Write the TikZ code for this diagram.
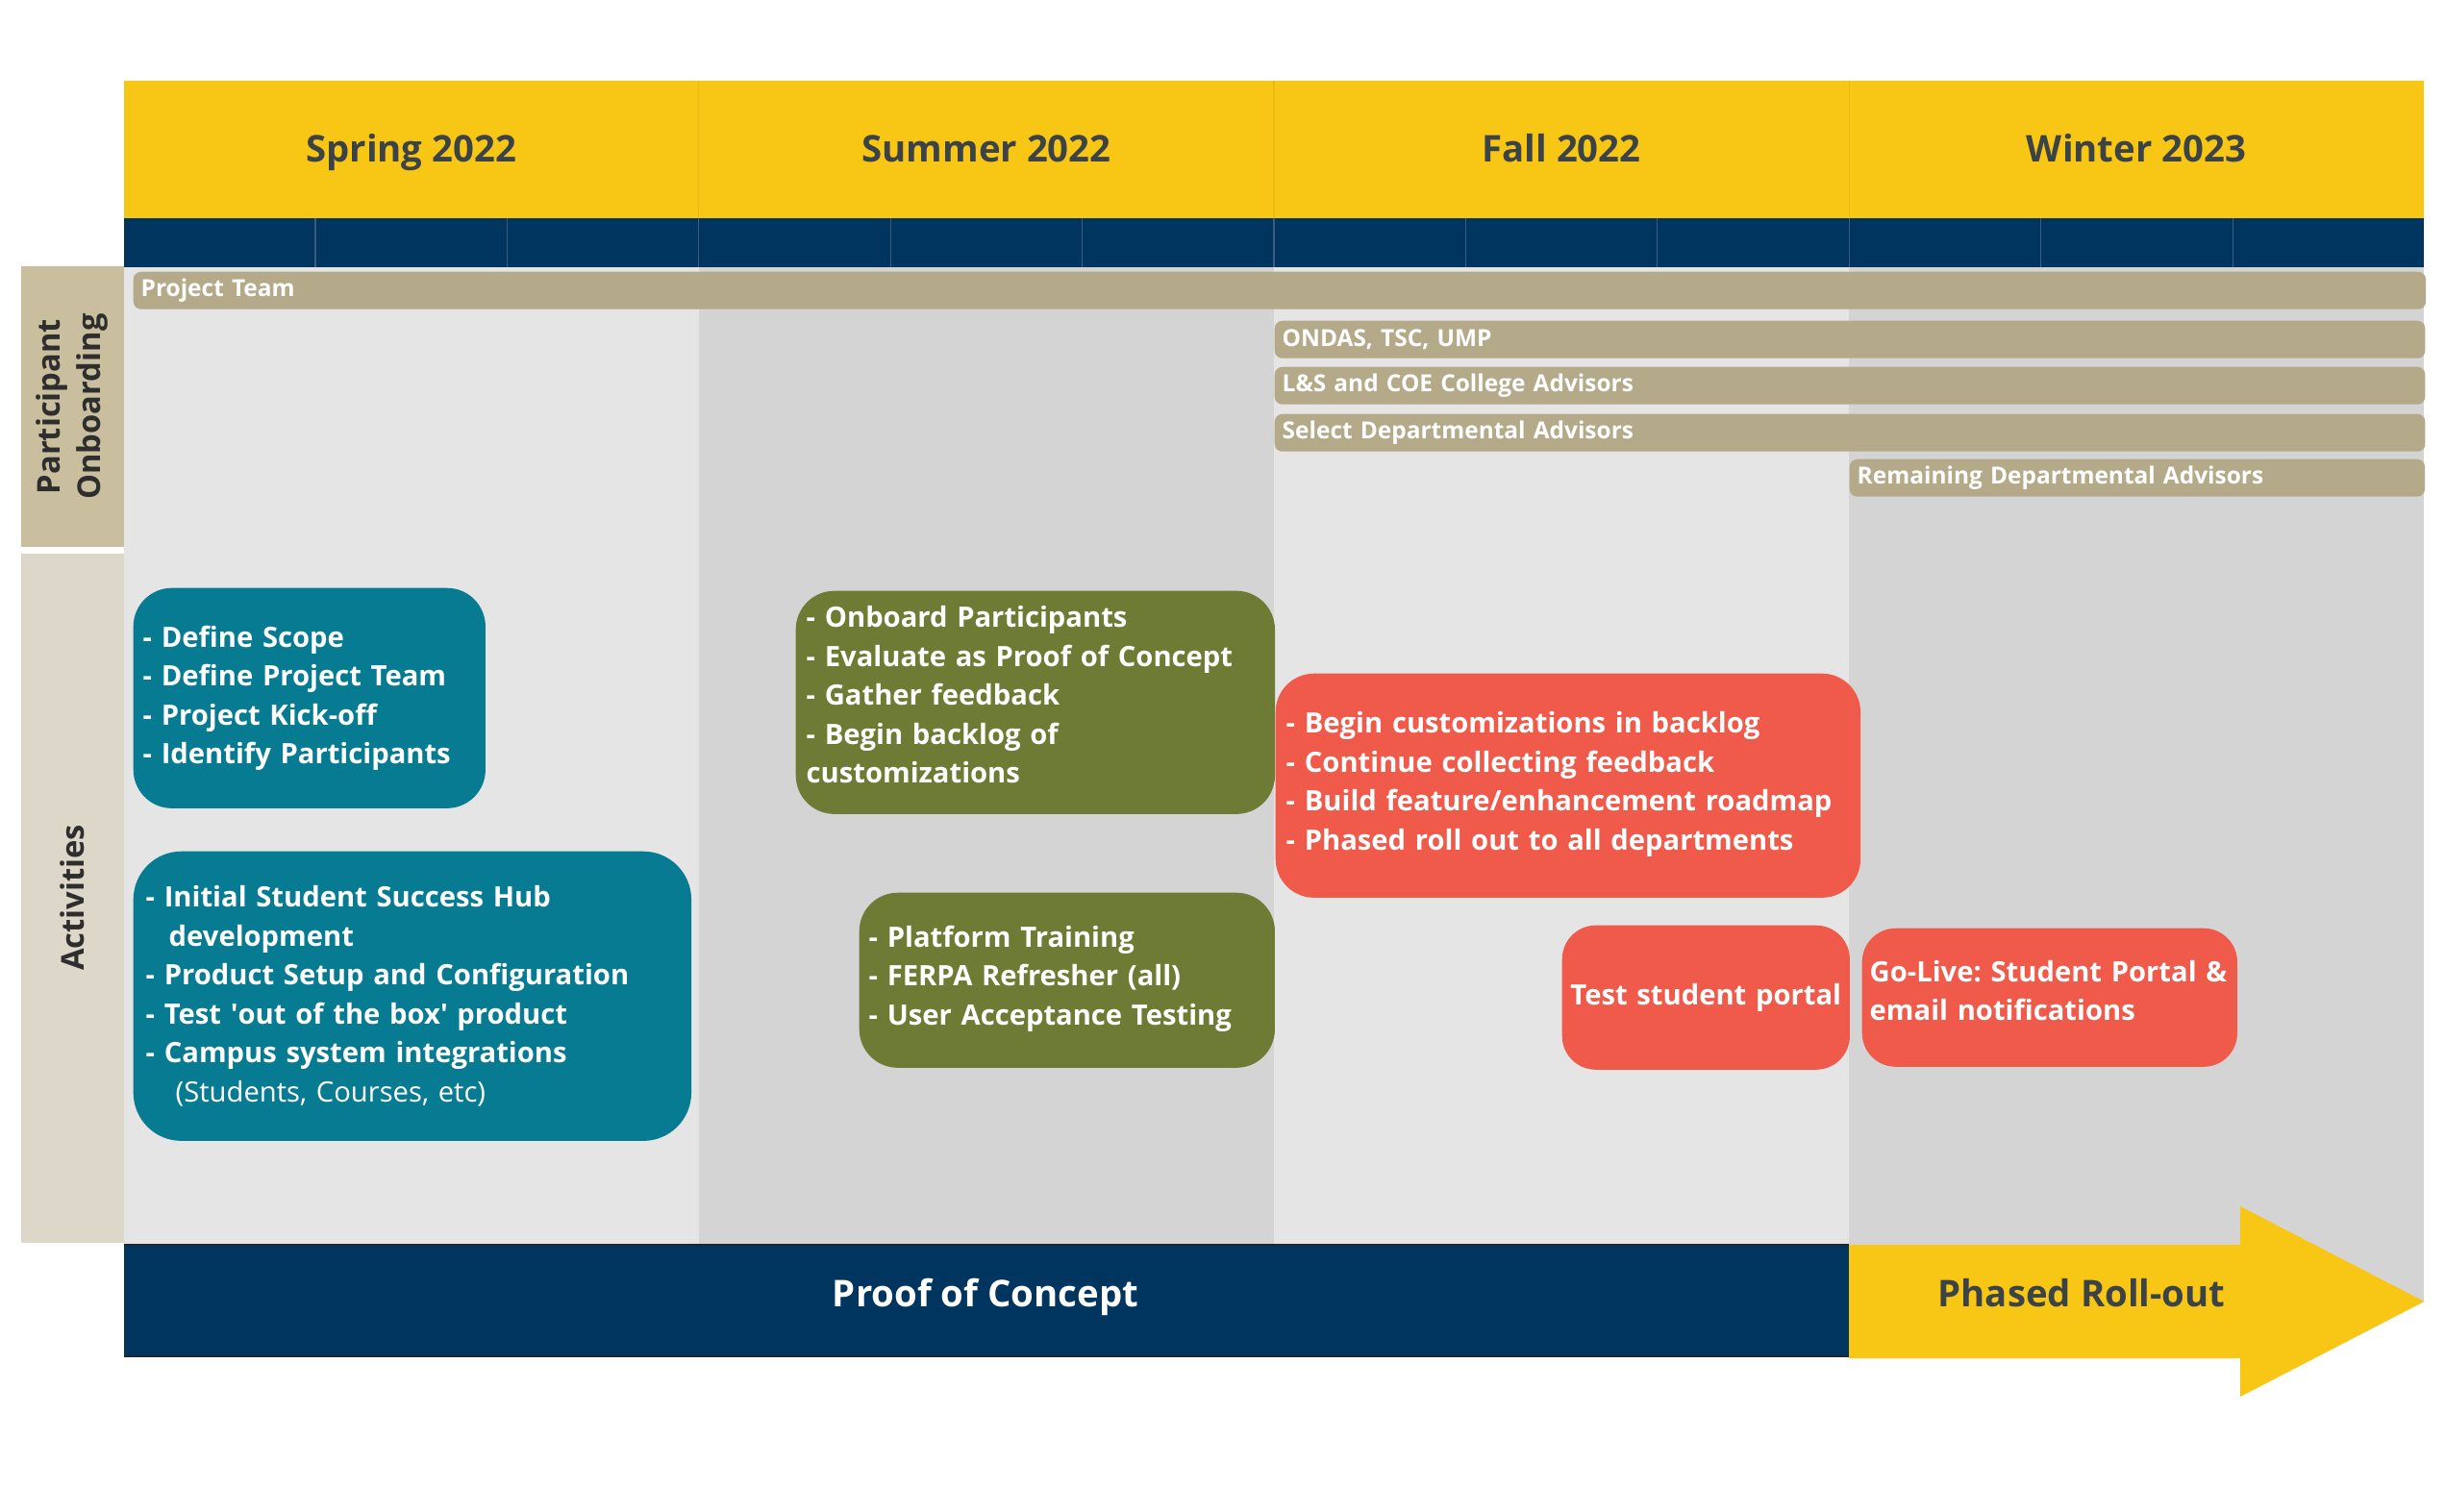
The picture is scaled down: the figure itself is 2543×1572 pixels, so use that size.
\documentclass[tikz,border=0pt]{standalone}
\usepackage{fontspec}
\setmainfont{Open Sans}
\frenchspacing
\definecolor{yel}{HTML}{F8C614}
\definecolor{yelline}{HTML}{E8BA14}
\definecolor{navy}{HTML}{00355F}
\definecolor{navyline}{HTML}{3A5C80}
\definecolor{headtxt}{HTML}{3C4347}
\definecolor{lightcol}{HTML}{E5E5E5}
\definecolor{darkcol}{HTML}{D4D4D4}
\definecolor{tanbar}{HTML}{B4AA8A}
\definecolor{partcol}{HTML}{C9BF9F}
\definecolor{actcol}{HTML}{DDD7C9}
\definecolor{labtxt}{HTML}{2E2E2E}
\definecolor{teal}{HTML}{067B92}
\definecolor{olive}{HTML}{6D7B35}
\definecolor{redbox}{HTML}{EF5A4A}
\definecolor{edgedark}{HTML}{1B2733}
\begin{document}
\begin{tikzpicture}[x=0.01cm,y=-0.01cm,
  head/.style={font=\fontsize{10.9}{13}\selectfont\bfseries, text=headtxt, anchor=base},
  sidelab/.style={rotate=90, align=center, font=\fontsize{9.3}{12}\selectfont\bfseries, text=labtxt},
  bar/.style={fill=tanbar, rounded corners=0.08cm, anchor=north west, inner xsep=0.08cm, inner ysep=0pt,
    minimum height=0.39cm, text width=#1, align=left, text=white, font=\fontsize{6.95}{8.5}\selectfont\bfseries},
  actbox/.style={rounded corners=0.4cm, anchor=north west, inner ysep=0pt, align=left, text=white,
    font=\fontsize{8.3}{11.5}\selectfont\bfseries},
  bottomtxt/.style={font=\fontsize{10.9}{12.5}\selectfont\bfseries, text height=0.75em, text depth=0.22em}
]
\useasboundingbox (0,0) rectangle (2543,1572);

% column backgrounds
\fill[lightcol] (128.6,277) rectangle (726.8,1295);
\fill[darkcol] (726.8,277) rectangle (1325,1295);
\fill[lightcol] (1325,277) rectangle (1923.2,1295);
\fill[darkcol] (1923.2,277) rectangle (2521.4,1354);

% header
\fill[yel] (128.6,84) rectangle (2521.4,227);
\foreach \xx in {726.8,1325,1923.2}
  \draw[yelline, line width=0.3pt] (\xx,84) -- (\xx,227);
\fill[navy] (128.6,227) rectangle (2521.4,278);
\foreach \xx in {328,527.4,726.8,926.2,1125.6,1325,1524.4,1723.8,1923.2,2122.6,2322}
  \draw[navyline, line width=0.3pt] (\xx,227) -- (\xx,278);

\node[head] (hspring) at (427.7,168) {Spring 2022};
\node[head] (hsummer) at (1026,168) {Summer 2022};
\node[head] (hfall) at (1624,168) {Fall 2022};
\node[head] (hwinter) at (2222,168) {Winter 2023};

% side labels
\fill[partcol] (22,277) rectangle (128.6,569);
\fill[actcol] (22,576) rectangle (128.6,1293);
\node[sidelab] (lpart) at (75,423) {Participant\\Onboarding};
\node[sidelab] (lact) at (75,934) {Activities};

% onboarding bars
\node[bar=23.67cm] (bteam) at (138,282) {Project Team};
\node[bar=11.80cm] (bondas) at (1325,333) {ONDAS, TSC, UMP};
\node[bar=11.80cm] (bls) at (1325,381) {L\&S and COE College Advisors};
\node[bar=11.80cm] (bsel) at (1325,430) {Select Departmental Advisors};
\node[bar=5.82cm] (brem) at (1923,477) {Remaining Departmental Advisors};

% activity boxes
\node[actbox, fill=teal, inner xsep=0.1cm, text width=3.46cm, minimum height=2.29cm] (t1) at (138,611)
  {- Define Scope\\- Define Project Team\\- Project Kick-off\\- Identify Participants};
\node[actbox, fill=teal, rounded corners=0.5cm, inner xsep=0.13cm, text width=5.54cm, minimum height=3.01cm] (t2) at (138,885)
  {- Initial Student Success Hub\\\hspace*{0.24cm}development\\\mbox{- Product Setup and Configuration}\\- Test \textquotesingle out of the box\textquotesingle\ product\\- Campus system integrations\\\hspace*{0.31cm}{\mdseries (Students, Courses, etc)}};
\node[actbox, fill=olive, inner xsep=0.11cm, text width=4.76cm, minimum height=2.32cm] (g1) at (827,614)
  {- Onboard Participants\\\mbox{- Evaluate as Proof of Concept}\\- Gather feedback\\- Begin backlog of\\customizations\rule[-0.16cm]{0pt}{0pt}};
\node[actbox, fill=olive, inner xsep=0.1cm, text width=4.12cm, minimum height=1.82cm] (g2) at (893,928)
  {- Platform Training\\- FERPA Refresher (all)\\\mbox{- User Acceptance Testing}\rule[-0.1cm]{0pt}{0pt}};
\node[actbox, fill=redbox, inner xsep=0.11cm, text width=5.86cm, minimum height=2.33cm] (r1) at (1326,700)
  {\mbox{- Begin customizations in backlog}\\\mbox{- Continue collecting feedback}\\\mbox{- Build feature/enhancement roadmap}\\\mbox{- Phased roll out to all departments}\rule[-0.1cm]{0pt}{0pt}};
\node[actbox, fill=redbox, rounded corners=0.35cm, inner xsep=0pt, text width=2.99cm, minimum height=1.50cm, align=center] (r2) at (1624,962)
  {\mbox{Test student portal}};
\node[actbox, fill=redbox, rounded corners=0.35cm, inner xsep=0.08cm, text width=3.74cm, minimum height=1.44cm] (r3) at (1936,965)
  {\mbox{Go-Live: Student Portal \&}\\email notifications\rule[-0.15cm]{0pt}{0pt}};

% bottom bar and arrow
\fill[navy] (128.6,1295) rectangle (1923.2,1411);
\draw[edgedark, line width=0.6pt] (128.6,1295) -- (1923.2,1295);
\draw[edgedark, line width=0.6pt] (128.6,1411) -- (1923.2,1411);
\fill[yel] (1923.2,1295) -- (2330,1295) -- (2330,1255) -- (2521.4,1354) -- (2330,1453) -- (2330,1413) -- (1923.2,1413) -- cycle;
\node[bottomtxt, text=white] (poc) at (1025,1350) {Proof of Concept};
\node[bottomtxt, text=headtxt] (phased) at (2165,1350) {Phased Roll-out};
\end{tikzpicture}
\end{document}
